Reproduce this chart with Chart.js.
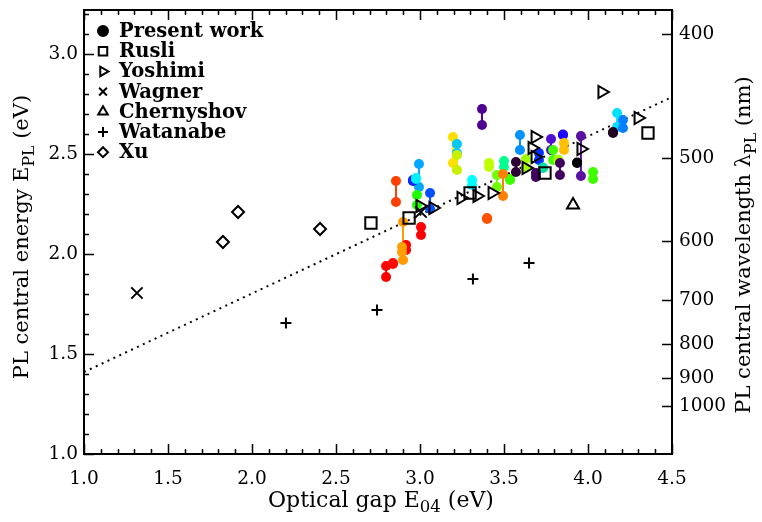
<!DOCTYPE html>
<html>
<head>
<meta charset="utf-8">
<script src="https://cdn.jsdelivr.net/npm/chart.js@4"></script>
<style>
  html, body { margin: 0; padding: 0; background: #fff; }
  #wrap { width: 762px; height: 522px; }
</style>
</head>
<body>
<div id="wrap"><canvas id="chart" width="762" height="522"></canvas></div>
<script>
// present work: optical gap and the two ends of each PL bar
const pwGap  = [2.798, 2.839, 2.917, 3.006, 2.857, 2.899, 2.893, 2.994, 2.958, 2.976, 2.982, 3.060, 3.196, 3.220, 3.220, 3.369, 3.310, 3.399, 3.411, 3.500, 3.458, 3.536, 3.494, 3.571, 3.631, 3.595, 3.708, 3.732, 3.690, 3.780, 3.792, 3.821, 3.851, 3.857, 3.833, 3.935, 3.958, 4.030, 4.173, 4.208, 4.149];
const pwLow  = [1.885, 1.950, 2.020, 2.095, 2.260, 1.970, 2.010, 2.335, 2.365, 2.375, 2.245, 2.225, 2.455, 2.505, 2.420, 2.645, 2.345, 2.175, 2.435, 2.435, 2.335, 2.370, 2.290, 2.410, 2.430, 2.520, 2.470, 2.430, 2.385, 2.520, 2.470, 2.470, 2.595, 2.520, 2.395, 2.455, 2.390, 2.375, 2.635, 2.630, 2.605];
const pwHigh = [1.940, 1.955, 2.045, 2.135, 2.365, 2.160, 2.035, 2.450, 2.370, 2.380, 2.295, 2.305, 2.585, 2.550, 2.495, 2.725, 2.370, 2.180, 2.455, 2.465, 2.395, 2.375, 2.400, 2.460, 2.475, 2.595, 2.505, 2.432, 2.405, 2.575, 2.520, 2.472, 2.597, 2.555, 2.455, 2.457, 2.590, 2.410, 2.705, 2.670, 2.610];
// colour of each bar (style, kept apart from the values)
const pwColors = ['#ff0000', '#ff0a00', '#ff0000', '#ff0000', '#ff4000', '#ff9a00', '#ffa000', '#00a8ff', '#1020ff', '#00f0ff', '#20ff00', '#0050ff', '#ffe000', '#00c8ff', '#c8f000', '#500090', '#00ffff', '#ff5000', '#c0ff00', '#00ff90', '#70ff00', '#40ff00', '#ff8000', '#2a0035', '#a0ff00', '#0090ff', '#0030ff', '#00e0a0', '#400060', '#5010d0', '#40ff00', '#a0ff00', '#2000ff', '#ffc000', '#400060', '#000000', '#5a10a0', '#40ff00', '#00e0ff', '#0080ff', '#200020'];

const rusliGap = [2.708, 2.935, 3.298, 3.744, 4.357];
const rusliPL  = [2.155, 2.180, 2.305, 2.405, 2.605];
const yoshimiGap = [3.000, 3.077, 3.244, 3.339, 3.429, 3.631, 3.685, 3.667, 3.685, 3.958, 4.083, 4.298];
const yoshimiPL  = [2.240, 2.230, 2.280, 2.290, 2.305, 2.430, 2.485, 2.530, 2.585, 2.525, 2.810, 2.680];
const wagnerGap = [1.315, 3.006];
const wagnerPL  = [1.805, 2.210];
const chernyshovGap = [3.911];
const chernyshovPL  = [2.245];
const watanabeGap = [2.202, 2.744, 3.315, 3.649];
const watanabePL  = [1.655, 1.720, 1.875, 1.955];
const xuGap = [1.827, 1.917, 2.405];
const xuPL  = [2.060, 2.210, 2.125];
const fitGap = [1.0, 4.5];
const fitPL  = [1.41, 2.785];

const wavelengths = [400, 500, 600, 700, 800, 900, 1000];
const hc = 1239.84;

const pts = (xs, ys) => xs.map((x, i) => ({ x: x, y: ys[i] }));

const pwPoints = [];
pwGap.forEach((g, i) => {
    pwPoints.push({ x: g, y: pwLow[i] }, { x: g, y: pwHigh[i] }, { x: g, y: null });
});

const serif = 'DejaVu Serif';

function openMarker(label, data, style, radius, rotation) {
    return {
        label: label,
        data: data,
        pointStyle: style,
        pointRadius: radius,
        pointRotation: rotation || 0,
        pointBorderColor: '#000',
        pointBackgroundColor: 'rgba(0,0,0,0)',
        pointBorderWidth: 2,
        showLine: false,
        order: 1
    };
}

const datasets = [
    {
        label: 'Present work',
        data: pwPoints,
        showLine: true,
        spanGaps: false,
        borderWidth: 2,
        borderColor: '#000',
        segment: { borderColor: ctx => pwColors[Math.floor(ctx.p0DataIndex / 3)] },
        pointStyle: 'circle',
        pointRadius: 5,
        pointBorderWidth: 0,
        pointBackgroundColor: ctx => pwColors[Math.floor(ctx.dataIndex / 3)],
        order: 5
    },
    openMarker('Rusli', pts(rusliGap, rusliPL), 'rect', 8),
    openMarker('Yoshimi', pts(yoshimiGap, yoshimiPL), 'triangle', 7, 90),
    openMarker('Wagner', pts(wagnerGap, wagnerPL), 'crossRot', 8),
    openMarker('Chernyshov', pts(chernyshovGap, chernyshovPL), 'triangle', 7),
    openMarker('Watanabe', pts(watanabeGap, watanabePL), 'cross', 5.5),
    openMarker('Xu', pts(xuGap, xuPL), 'rectRot', 6),
    {
        label: 'fit',
        data: pts(fitGap, fitPL),
        showLine: true,
        borderColor: '#000',
        borderWidth: 2,
        borderDash: [2, 4.5],
        pointRadius: 0,
        order: 8
    }
];

// legend drawn inside the plot, IDL style
const legendItems = [
    { text: 'Present work', style: 'circle', r: 5, fill: true },
    { text: 'Rusli', style: 'rect', r: 6 },
    { text: 'Yoshimi', style: 'triangle', r: 5.5, rot: 90 },
    { text: 'Wagner', style: 'crossRot', r: 5.5 },
    { text: 'Chernyshov', style: 'triangle', r: 5.5 },
    { text: 'Watanabe', style: 'cross', r: 5 },
    { text: 'Xu', style: 'rectRot', r: 5 }
];

const legendPlugin = {
    id: 'insideLegend',
    afterDatasetsDraw(chart) {
        const ctx = chart.ctx;
        const a = chart.chartArea;
        ctx.save();
        ctx.font = 'bold 19.5px "' + serif + '"';
        ctx.textBaseline = 'middle';
        legendItems.forEach((it, i) => {
            const y = a.top + 21 + i * 20.2;
            ctx.strokeStyle = '#000';
            ctx.fillStyle = it.fill ? '#000' : 'rgba(0,0,0,0)';
            ctx.lineWidth = 2;
            Chart.helpers.drawPoint(ctx, { pointStyle: it.style, radius: it.r, rotation: it.rot || 0, borderWidth: 2 }, a.left + 19, y);
            ctx.fillStyle = '#000';
            ctx.fillText(it.text, a.left + 35, y + 1);
        });
        ctx.restore();
    }
};

// axis titles with subscripts
function richText(ctx, parts, cx, cy, size, rotate) {
    ctx.save();
    ctx.translate(cx, cy);
    if (rotate) ctx.rotate(-Math.PI / 2);
    let total = 0;
    parts.forEach(p => {
        ctx.font = (p.sub ? size * 0.75 : size) + 'px "' + serif + '"';
        p.w = ctx.measureText(p.t).width;
        total += p.w;
    });
    let x = -total / 2;
    ctx.textBaseline = 'alphabetic';
    ctx.fillStyle = '#000';
    parts.forEach(p => {
        ctx.font = (p.sub ? size * 0.75 : size) + 'px "' + serif + '"';
        ctx.fillText(p.t, x, p.sub ? size * 0.6 : size * 0.35);
        x += p.w;
    });
    ctx.restore();
}

// frame and inward ticks
const framePlugin = {
    id: 'frame',
    afterDraw(chart) {
        const ctx = chart.ctx;
        const a = chart.chartArea;
        const xs = chart.scales.x, ys = chart.scales.y, y2 = chart.scales.y2;
        ctx.save();
        ctx.strokeStyle = '#000';
        ctx.lineWidth = 2;
        ctx.strokeRect(a.left, a.top, a.right - a.left, a.bottom - a.top);
        ctx.lineWidth = 1.5;
        ctx.beginPath();
        for (let k = 10; k <= 45; k++) {
            const px = Math.round(xs.getPixelForValue(k / 10)) + 0.5;
            const len = k % 5 === 0 ? 10 : 5;
            ctx.moveTo(px, a.bottom); ctx.lineTo(px, a.bottom - len);
            ctx.moveTo(px, a.top); ctx.lineTo(px, a.top + len);
        }
        for (let k = 10; k <= Math.floor(ys.max * 10); k++) {
            const py = Math.round(ys.getPixelForValue(k / 10)) + 0.5;
            const len = k % 5 === 0 ? 10 : 5;
            ctx.moveTo(a.left, py); ctx.lineTo(a.left + len, py);
        }
        wavelengths.forEach(l => {
            const py = Math.round(y2.getPixelForValue(hc / l)) + 0.5;
            ctx.moveTo(a.right, py); ctx.lineTo(a.right - 10, py);
        });
        ctx.stroke();
        ctx.restore();

        richText(ctx, [{ t: 'Optical gap E' }, { t: '04', sub: true }, { t: ' (eV)' }], 381, 499, 22, false);
        richText(ctx, [{ t: 'PL central energy E' }, { t: 'PL', sub: true }, { t: ' (eV)' }], 21, 237, 21, true);
        richText(ctx, [{ t: 'PL central wavelength \u03bb' }, { t: 'PL', sub: true }, { t: ' (nm)' }], 743, 245, 21, true);
    }
};

const tickFont = { family: serif, size: 18.5 };
const halfLabel = v => (Math.abs(v * 2 - Math.round(v * 2)) < 1e-6 ? v.toFixed(1) : '');
const noVPad = s => { s.paddingTop = 0; s.paddingBottom = 0; };

new Chart(document.getElementById('chart'), {
    type: 'scatter',
    data: { datasets: datasets },
    plugins: [legendPlugin, framePlugin],
    options: {
        responsive: false,
        animation: false,
        events: [],
        layout: { padding: { top: 10, left: 0, right: 0, bottom: 0 } },
        plugins: { legend: { display: false }, tooltip: { enabled: false } },
        scales: {
            x: {
                type: 'linear',
                min: 1.0,
                max: 4.5,
                grid: { display: false, drawTicks: false },
                border: { display: false },
                ticks: { stepSize: 0.5, color: '#000', font: tickFont, padding: 14, maxRotation: 0, autoSkip: false, callback: halfLabel },
                afterFit: s => { s.height = 68; s.paddingLeft = 0; s.paddingRight = 0; }
            },
            y: {
                type: 'linear',
                position: 'left',
                min: 1.0,
                max: 3.22,
                grid: { display: false, drawTicks: false },
                border: { display: false },
                ticks: { stepSize: 0.5, includeBounds: false, color: '#000', font: tickFont, padding: 6, autoSkip: false, callback: halfLabel },
                afterFit: s => { s.width = 84; noVPad(s); }
            },
            y2: {
                type: 'linear',
                position: 'right',
                min: 1.0,
                max: 3.22,
                grid: { display: false, drawTicks: false },
                border: { display: false },
                afterBuildTicks: s => { s.ticks = wavelengths.map(l => ({ value: hc / l })); },
                ticks: { color: '#000', font: tickFont, padding: 7, autoSkip: false, callback: (v, i) => String(wavelengths[i]) },
                afterFit: s => { s.width = 90; noVPad(s); }
            }
        }
    }
});
</script>
</body>
</html>
